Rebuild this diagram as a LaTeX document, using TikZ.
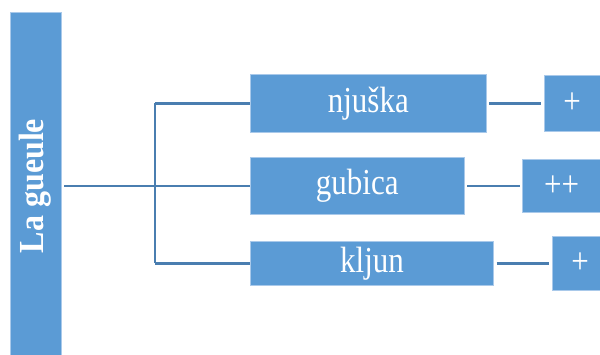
\documentclass[tikz,border=0pt]{standalone}
\usepackage{fontspec}
\setmainfont{Liberation Serif}
\definecolor{boxblue}{HTML}{5B9BD5}
\definecolor{boxedge}{HTML}{A9C9EA}
\definecolor{linecol}{HTML}{4A7EB0}
\begin{document}
\begin{tikzpicture}[x=1pt,y=-1pt,
  box/.style={fill=boxblue,draw=boxedge,line width=0.8pt,inner sep=0pt,
    text=white,font=\fontsize{31}{31}\selectfont},
  conn/.style={draw=linecol,line width=2.7pt},
  gap/.style={shorten <=3pt,shorten >=2.5pt}]
\useasboundingbox (0,0) rectangle (600,354);
\clip (0,0) rectangle (600,354);
\fill[white] (0,0) rectangle (600,354);
% root
\node[box,rotate=90,minimum width=348pt,minimum height=51pt] (root) at (35.5,186)
  {\fontsize{32}{32}\selectfont\scalebox{1}[1.1]{\bfseries La gueule}};
% second level
\node[box,minimum width=235.3pt,minimum height=58.7pt] (n1) at (368.3,103.3) {\scalebox{1}[1.18]{njuška}};
\node[box,minimum width=213.3pt,minimum height=56.6pt] (n2) at (357.3,186) {\scalebox{1}[1.18]{gubica}};
\node[box,minimum width=242.6pt,minimum height=43.3pt] (n3) at (372,263.3) {\scalebox{1}[1.18]{kljun}};
% third level
\node[box,minimum width=55.7pt,minimum height=55.3pt] (p1) at (572.2,103.3) {\scalebox{1}[1.18]{+}};
\node[box,minimum width=78pt,minimum height=52.3pt] (p2) at (561.7,186) {\scalebox{1}[1.18]{++}};
\node[box,minimum width=56pt,minimum height=53.3pt] (p3) at (580,263.3) {\scalebox{1}[1.18]{+}};
% connectors
\coordinate (j) at (155,186);
\draw[conn] ([xshift=3pt]root.south) -- (n2.west);
\draw[conn] (j |- n1.west) -- (j |- n3.west);
\draw[conn] (j |- n1.west) -- (n1.west);
\draw[conn] (j |- n3.west) -- (n3.west);
\draw[conn,gap] (n1.east) -- (p1.west);
\draw[conn,gap] (n2.east) -- (p2.west);
\draw[conn,gap] (n3.east) -- (p3.west);
\end{tikzpicture}
\end{document}
